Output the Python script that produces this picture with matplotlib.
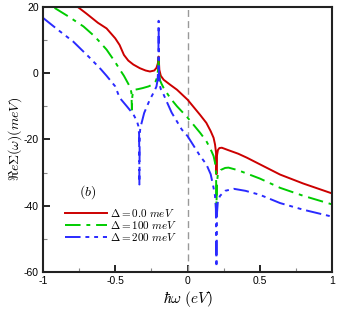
import matplotlib
matplotlib.use("Agg")
import matplotlib.pyplot as plt
from matplotlib.ticker import MultipleLocator

plt.rcParams['mathtext.fontset'] = 'cm'
plt.rcParams['font.family'] = ['Liberation Sans', 'DejaVu Sans']

# Delta = 0.0 meV
x_red = [-0.76, -0.7, -0.62, -0.56, -0.5, -0.47, -0.44, -0.41, -0.375, -0.33, -0.29, -0.26, -0.23,
         -0.215, -0.205, -0.2, -0.195, -0.185, -0.165, -0.12, -0.073, 0.0, 0.087, 0.13, 0.16, 0.18,
         0.19, 0.197, 0.2, 0.203, 0.21, 0.22, 0.237, 0.28, 0.35, 0.41, 0.5, 0.64, 0.8, 1.0]
y_red = [20, 18, 15.2, 13.5, 10.5, 8.5, 5.5, 3.8, 2.6, 1.5, 0.8, 0.5, 0.8,
         1.6, 3.0, 5.0, 1.0, -0.8, -2.0, -3.5, -5.0, -8, -12.6, -15, -17.5, -19.5,
         -21.5, -24, -30.5, -25, -23.2, -22.6, -22.5, -23.2, -24.3, -25.5, -27.5, -30.6, -33.3, -36.3]

# Delta = 100 meV
x_green = [-0.92, -0.82, -0.72, -0.64, -0.56, -0.5, -0.47, -0.44, -0.41, -0.395, -0.388, -0.385,
           -0.382, -0.375, -0.365, -0.34, -0.31, -0.27, -0.24, -0.22, -0.21, -0.203, -0.2, -0.197,
           -0.19, -0.18, -0.165, -0.12, -0.073, 0.0, 0.087, 0.13, 0.16, 0.18, 0.19, 0.197, 0.2,
           0.203, 0.21, 0.23, 0.26, 0.283, 0.35, 0.5, 0.64, 0.8, 1.0]
y_green = [19.7, 17, 14.1, 11, 7.1, 3.3, 1.2, -0.8, -3.2, -4.5, -6, -11,
           -7, -5.5, -5, -4.8, -4.5, -4.0, -3.4, -2.4, -1.2, 1.5, 4.7, 0,
           -2.2, -3.2, -4.5, -7.5, -10, -13.4, -18, -20.5, -23, -25, -27, -30, -40,
           -33, -30.5, -29.2, -28.6, -28.5, -29.3, -31.8, -34.6, -37, -39.6]

# Delta = 200 meV
x_blue = [-1.0, -0.9, -0.79, -0.68, -0.6, -0.56, -0.5, -0.47, -0.42, -0.375, -0.35, -0.34, -0.335,
          -0.333, -0.331, -0.327, -0.32, -0.3, -0.26, -0.23, -0.215, -0.207, -0.202, -0.2, -0.198,
          -0.193, -0.185, -0.176, -0.15, -0.11, -0.04, 0.0, 0.087, 0.13, 0.16, 0.18, 0.19, 0.196,
          0.2, 0.204, 0.21, 0.225, 0.26, 0.32, 0.4, 0.5, 0.64, 0.8, 1.0]
y_blue = [16.7, 13.2, 9.5, 4.8, 1.2, -0.8, -4.0, -7.4, -10, -12.4, -14.5, -16, -18.5,
          -33.6, -19, -16.5, -15.4, -12, -7.9, -5.5, -4, -2, 2, 15.8, 0,
          -3.5, -4.8, -5.4, -8, -11.9, -17, -19, -25, -27.5, -30.5, -34.6, -37, -41,
          -58.5, -42, -38.5, -37, -35.5, -34.9, -35.5, -36.7, -39.2, -41.2, -43.3]

labels = [r'$\Delta = 0.0\ meV$', r'$\Delta = 100\ meV$', r'$\Delta = 200\ meV$']
x_ticks = [-1, -0.5, 0, 0.5, 1]
x_ticklabels = ['-1', '-0.5', '0', '0.5', '1']
y_ticks = [-60, -40, -20, 0, 20]
y_ticklabels = ['-60', '-40', '-20', '0', '20']

fig = plt.figure(figsize=(3.41, 3.13), dpi=100)
ax = fig.add_axes([0.126, 0.131, 0.848, 0.847])

ax.axvline(0, color='#999999', lw=1.0, ls=(0, (5, 3)))
ax.plot(x_red, y_red, color='#cc0000', lw=1.4, ls='-', label=labels[0])
ax.plot(x_green, y_green, color='#00cc00', lw=1.4, ls=(0, (8, 3, 2, 3)), label=labels[1])
ax.plot(x_blue, y_blue, color='#2a2aff', lw=1.4, ls=(0, (8, 2.5, 2, 2.5, 2, 2.5)), label=labels[2])

ax.set_xlim(-1, 1)
ax.set_ylim(-60, 20)
ax.set_xticks(x_ticks)
ax.set_xticklabels(x_ticklabels)
ax.set_yticks(y_ticks)
ax.set_yticklabels(y_ticklabels)
ax.xaxis.set_minor_locator(MultipleLocator(0.25))
ax.yaxis.set_minor_locator(MultipleLocator(10))
ax.tick_params(which='major', direction='in', length=5, width=1.2, labelsize=7.5, pad=3)
ax.tick_params(which='minor', direction='in', length=3, width=0.8, color='#888888')
for s in ax.spines.values():
    s.set_linewidth(1.5)
    s.set_color('#222222')

ax.set_xlabel(r'$\hbar\omega\ (eV)$', fontsize=11, labelpad=2)
ax.set_ylabel(r'$\Re e\Sigma(\omega)(meV)$', fontsize=10, labelpad=0)

ax.text(-0.69, -35.8, r'$(b)$', fontsize=10, ha='center', va='center')
leg = ax.legend(loc='upper left', bbox_to_anchor=(0.05, 0.275), frameon=False, fontsize=8,
                handlelength=3.8, handletextpad=0.2, labelspacing=0.02, borderpad=0.2)

fig.savefig('out.png', dpi=100)
